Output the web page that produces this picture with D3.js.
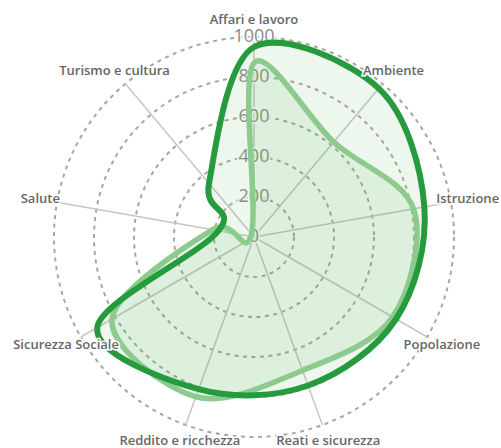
<!DOCTYPE html>
<html>
<head>
<meta charset="utf-8">
<script src="https://cdn.jsdelivr.net/npm/d3@7"></script>
<style>
  html, body { margin: 0; padding: 0; background: #fff; }
  svg { display: block; }
</style>
</head>
<body>
<svg id="chart"></svg>
<script>
// categories, clockwise from the top
const axes = [
  "Affari e lavoro", "Ambiente", "Istruzione", "Popolazione", "Reati e sicurezza",
  "Reddito e ricchezza", "Sicurezza Sociale", "Salute", "Turismo e cultura"
];
const ticks = [0, 200, 400, 600, 800, 1000];
const darkValues  = [950, 970, 865, 820, 790, 810, 905, 180, 350];
const lightValues = [870, 620, 810, 800, 710, 850, 820, 210, 20];

const W = 501, H = 448;
const cx = 254, cy = 237, R = 200;

const svg = d3.select('#chart').attr('width', W).attr('height', H);
const g = svg.append('g').attr('transform', `translate(${cx},${cy})`);

const r = d3.scaleLinear().domain([0, 1000]).range([0, R]);
const angle = d3.scalePoint().domain(axes).range([0, 2 * Math.PI * (axes.length - 1) / axes.length]);
const pt = (a, rad) => [Math.sin(angle(a)) * rad, -Math.cos(angle(a)) * rad];

// ── grid: dashed rings ──
g.append('g').selectAll('circle')
  .data(ticks.filter(t => t > 0))
  .join('circle')
    .attr('r', d => r(d))
    .attr('fill', 'none')
    .attr('stroke', '#a8a79c')
    .attr('stroke-width', 2)
    .attr('stroke-dasharray', '4,4.5');

// ── spokes ──
g.append('g').selectAll('line')
  .data(axes)
  .join('line')
    .attr('x1', 0).attr('y1', 0)
    .attr('x2', d => pt(d, R)[0])
    .attr('y2', d => pt(d, R)[1])
    .attr('stroke', '#c6c6c6')
    .attr('stroke-width', 1.5);

// ── tick labels along the top spoke ──
g.append('g').selectAll('text')
  .data(ticks)
  .join('text')
    .attr('x', 0)
    .attr('y', d => -r(d))
    .attr('dy', '0.3em')
    .attr('text-anchor', 'middle')
    .attr('font-family', '"Open Sans", sans-serif')
    .attr('font-size', 18)
    .attr('fill', '#8c8c8c')
    .attr('stroke', 'rgba(255,255,255,0.85)')
    .attr('stroke-width', 4)
    .attr('paint-order', 'stroke')
    .text(d => d);

// ── series ──
const line = d3.lineRadial()
  .angle((d, i) => angle(axes[i]))
  .radius(d => r(d))
  .curve(d3.curveCardinalClosed);

const series = [
  { values: lightValues, stroke: '#8dca8e', width: 5.5 },
  { values: darkValues,  stroke: '#259b3d', width: 6 },
];

g.append('g').selectAll('path.fill')
  .data(series)
  .join('path')
    .attr('class', 'fill')
    .attr('d', d => line(d.values))
    .attr('fill', '#5cb85c')
    .attr('fill-opacity', 0.11);

g.append('g').selectAll('path.stroke')
  .data(series)
  .join('path')
    .attr('class', 'stroke')
    .attr('d', d => line(d.values))
    .attr('fill', 'none')
    .attr('stroke', d => d.stroke)
    .attr('stroke-width', d => d.width)
    .attr('stroke-linejoin', 'round');

// ── axis labels ──
g.append('g').selectAll('text')
  .data(axes)
  .join('text')
    .attr('x', d => pt(d, 217)[0])
    .attr('y', d => pt(d, 217)[1])
    .attr('dy', '0.3em')
    .attr('text-anchor', 'middle')
    .attr('font-family', '"Open Sans", sans-serif')
    .attr('font-size', 13)
    .attr('font-weight', 600)
    .attr('fill', '#666')
    .attr('stroke', '#fff')
    .attr('stroke-width', 3)
    .attr('paint-order', 'stroke')
    .text(d => d);
</script>
</body>
</html>
